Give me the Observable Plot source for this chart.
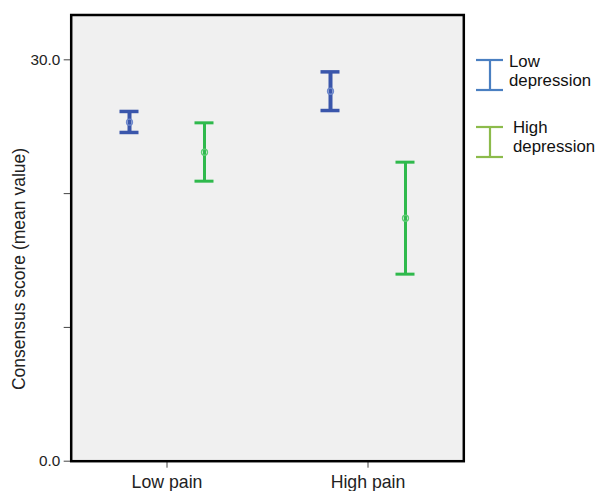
<!DOCTYPE html>
<html><head><meta charset="utf-8">
<script src="https://cdn.jsdelivr.net/npm/d3@7"></script>
<script src="https://cdn.jsdelivr.net/npm/@observablehq/plot@0.6"></script>
<style>
body{margin:0;background:#fff;font-family:"Liberation Sans",Arial,sans-serif;}
#wrap{position:relative;width:601px;height:491px;}
.leg{position:absolute;font-size:16.8px;line-height:19.2px;color:#111;white-space:nowrap;}
.icon{position:absolute;}
.ylab{position:absolute;left:18.5px;top:269px;font-size:17.5px;color:#222;white-space:nowrap;transform:translate(-50%,-50%) rotate(-90deg);}
</style></head><body><div id="wrap"></div>
<script>
const pain = ["Low pain", "High pain"];
const depression = ["Low depression", "High depression"];
// rows: pain, columns: depression
const means = [[25.34, 23.09], [27.65, 18.16]];
const lower = [[24.57, 20.93], [26.21, 13.98]];
const upper = [[26.14, 25.29], [29.10, 22.35]];
const yTicks = [0, 10, 20, 30];
const yTickLabels = ["0.0", "", "", "30.0"];
const yLabel = "Consensus score (mean value)";
const legendLabels = [["Low", "depression"], ["High", "depression"]];

const rows = [];
pain.forEach((p, i) => depression.forEach((d, j) => rows.push({pain: p, dep: d, mean: means[i][j], lo: lower[i][j], hi: upper[i][j]})));

const look = {
  "Low depression": {dx: -37.5, stroke: "#3a56ab", w: 4, cap: 3.5, dot: "#6d88cc"},
  "High depression": {dx: 37.5, stroke: "#2fb94c", w: 3, cap: 3, dot: "#5ccc72"}
};

const marks = [Plot.frame({fill: "#f0f0f0"})];
for (const d of depression) {
  const s = look[d];
  const sub = rows.filter(r => r.dep === d);
  marks.push(
    Plot.ruleX(sub, {x: "pain", y1: "lo", y2: "hi", dx: s.dx, stroke: s.stroke, strokeWidth: s.w}),
    Plot.tickY(sub, {x: "pain", y: "lo", dx: s.dx, stroke: s.stroke, strokeWidth: s.cap}),
    Plot.tickY(sub, {x: "pain", y: "hi", dx: s.dx, stroke: s.stroke, strokeWidth: s.cap}),
    Plot.dot(sub, {x: "pain", y: "mean", dx: s.dx, r: 3, stroke: s.dot, strokeWidth: 1.3, fill: "none"})
  );
}
marks.push(
  Plot.axisY({ticks: yTicks, tickFormat: d => yTickLabels[yTicks.indexOf(d)], tickSize: 7, tickPadding: 4, fontSize: 15.3, label: null, stroke: "#444", color: "#222"}),
  Plot.axisX({tickSize: 7, tickPadding: 7, fontSize: 17.7, label: null, stroke: "#444", color: "#222"}),
  Plot.frame({stroke: "#000", strokeWidth: 2.5})
);

const chart = Plot.plot({
  width: 601, height: 491,
  marginLeft: 70.7, marginRight: 137.7, marginTop: 14.5, marginBottom: 30.3,
  style: {fontFamily: "Liberation Sans, Arial, sans-serif", background: "white", fontSize: "15px"},
  x: {type: "band", domain: pain, paddingInner: 0.906, paddingOuter: 0.4248, align: 0.5},
  y: {domain: [0, 33.35]},
  marks
});
const wrap = document.getElementById("wrap");
wrap.appendChild(chart);

const yl = document.createElement("div");
yl.className = "ylab";
yl.textContent = yLabel;
wrap.appendChild(yl);

const legendColors = ["#4a7fc1", "#8cbb4b"];
const legendPos = [{icon: 58, text: 52, left: 509}, {icon: 125, text: 117.5, left: 513}];
legendLabels.forEach((lines, i) => {
  const ic = document.createElement("div");
  ic.className = "icon";
  ic.style.left = "476px"; ic.style.top = legendPos[i].icon + "px";
  ic.innerHTML = `<svg width="28" height="34"><g stroke="${legendColors[i]}" stroke-width="2.2"><line x1="0" x2="27" y1="2" y2="2"/><line x1="0" x2="27" y1="32" y2="32"/><line x1="14" x2="14" y1="2" y2="32"/></g></svg>`;
  wrap.appendChild(ic);
  const t = document.createElement("div");
  t.className = "leg";
  t.style.left = legendPos[i].left + "px"; t.style.top = legendPos[i].text + "px";
  t.innerHTML = lines.join("<br>");
  wrap.appendChild(t);
});
</script></body></html>
